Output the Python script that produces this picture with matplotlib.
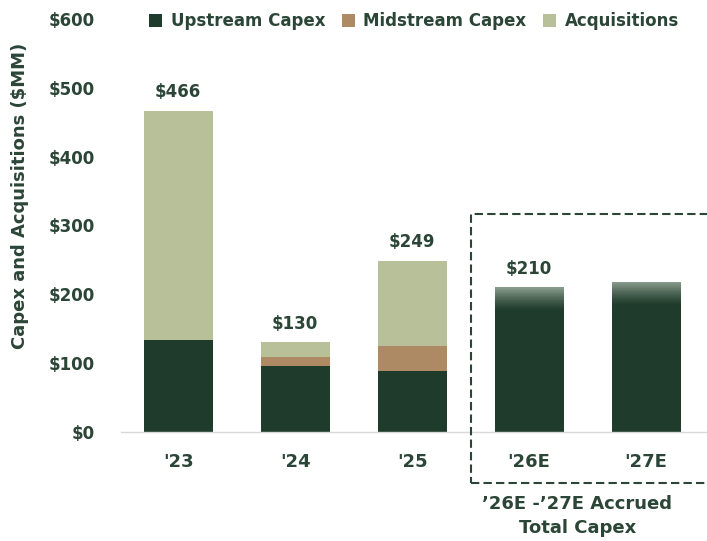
import numpy as np
import matplotlib
matplotlib.use("Agg")
import matplotlib.pyplot as plt
from matplotlib.patches import Rectangle
from matplotlib.colors import to_rgb

# ---- data ----
categories = ["'23", "'24", "'25", "'26E", "'27E"]
upstream = [134, 96, 89, 0, 0]
midstream = [0, 13, 36, 0, 0]
acquisitions = [332, 21, 124, 0, 0]
accrued_total = [0, 0, 0, 210, 218]
total_labels = ["$466", "$130", "$249", "$210", ""]
yticks = [0, 100, 200, 300, 400, 500, 600]
ytick_labels = ["$0", "$100", "$200", "$300", "$400", "$500", "$600"]
box_label = "\u201926E -\u201927E Accrued\nTotal Capex"

# ---- style ----
C_UP = "#1f3b2b"
C_MID = "#ad8a64"
C_ACQ = "#b8c09a"
C_FADE = "#8a9d8f"
C_TXT = "#2b4636"
FS = 12

plt.rcParams["font.family"] = ["DejaVu Sans"]
plt.rcParams["font.weight"] = "bold"

fig = plt.figure(figsize=(7.07, 5.41), dpi=100)
ax = fig.add_axes([0.171, 0.2015, 0.829, 0.7635])

x = np.arange(len(categories))
w = 0.59
up = np.array(upstream)
mid = np.array(midstream)
acq = np.array(acquisitions)
acc = np.array(accrued_total)

ax.bar(x, up, w, color=C_UP, label="Upstream Capex", zorder=2)
ax.bar(x, mid, w, bottom=up, color=C_MID, label="Midstream Capex", zorder=2)
ax.bar(x, acq, w, bottom=up + mid, color=C_ACQ, label="Acquisitions", zorder=2)

# accrued total bars: solid dark with a fading top
fade = 34
nseg = 40
c0 = np.array(to_rgb(C_UP))
c1 = np.array(to_rgb(C_FADE))
for xi, v in zip(x, acc):
    if v > 0:
        ax.bar(xi, v - fade, w, color=C_UP, zorder=2)
        step = fade / nseg
        for k in range(nseg):
            t = ((k + 0.5) / nseg) ** 1.3
            col = c0 + (c1 - c0) * t
            ax.bar(xi, step * 1.02, w, bottom=v - fade + k * step,
                   color=col, linewidth=0, zorder=2)

totals = up + mid + acq + acc
for xi, t, lab in zip(x, totals, total_labels):
    if lab:
        ax.annotate(lab, (xi, t), xytext=(0, 7), textcoords="offset points",
                    ha="center", va="bottom", fontsize=FS, fontweight="bold",
                    color=C_TXT)

ax.set_xlim(-0.49, 4.52)
ax.set_ylim(0, 600)
ax.set_xticks(x)
ax.set_xticklabels(categories)
ax.set_yticks(yticks)
ax.set_yticklabels(ytick_labels)
ax.tick_params(axis="both", length=0, labelsize=FS, labelcolor=C_TXT)
ax.tick_params(axis="x", labelsize=13, pad=15)
ax.tick_params(axis="y", pad=19)
for lab in ax.get_xticklabels() + ax.get_yticklabels():
    lab.set_fontweight("bold")

for s in ["top", "right", "left"]:
    ax.spines[s].set_visible(False)
ax.spines["bottom"].set_color("#d9d9d9")
ax.spines["bottom"].set_linewidth(1.0)

ax.set_ylabel("Capex and Acquisitions ($MM)", fontsize=13,
              fontweight="bold", color=C_TXT)
ax.yaxis.set_label_coords(-0.157, 0.571)

# dashed box around estimates
box = Rectangle((2.5, -74), 2.3, 391, fill=False, edgecolor=C_TXT,
                linestyle=(0, (4, 2)), linewidth=1.5, clip_on=False, zorder=4)
ax.add_patch(box)
ax.text(3.41, -122, box_label, ha="center", va="center", fontsize=13,
        fontweight="bold", color=C_TXT, linespacing=1.45, clip_on=False)

leg = ax.legend(loc="upper center", bbox_to_anchor=(0.5, 1.052), ncol=3,
                frameon=False, handlelength=0.8, handleheight=0.8,
                handletextpad=0.5, columnspacing=1.0, fontsize=FS)
for t in leg.get_texts():
    t.set_color(C_TXT)
    t.set_fontweight("bold")

fig.savefig("out.png", dpi=100)
